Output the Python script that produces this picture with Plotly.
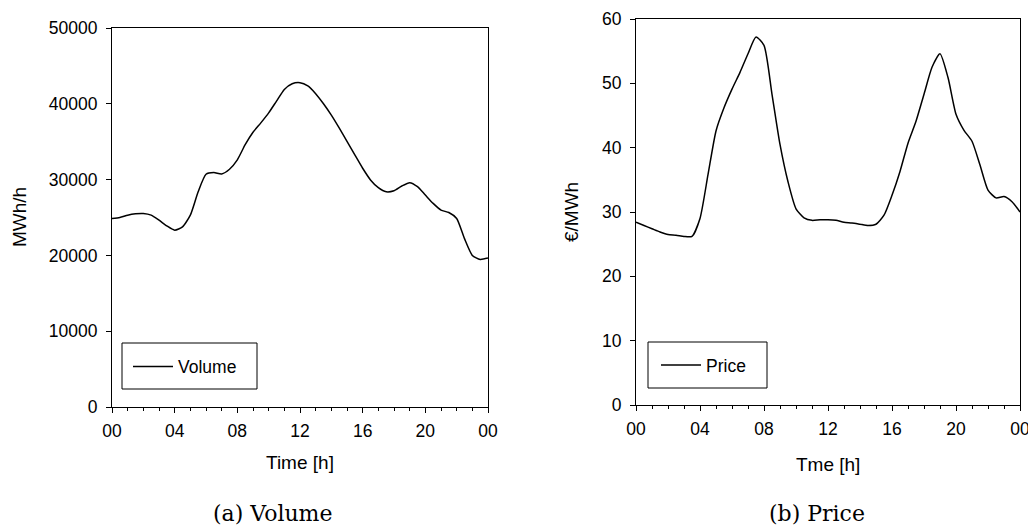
import plotly.graph_objects as go

# ---- data ----
hours = [i * 0.5 for i in range(49)]  # 0 .. 24 h, half-hour steps

volume = [24870, 25000, 25310, 25490, 25530, 25310, 24650, 23890, 23320, 23760,
          25310, 28400, 30710, 30930, 30750, 31370, 32610, 34600, 36240, 37480,
          38800, 40350, 41900, 42650, 42790, 42350, 41330, 40000, 38500, 36810,
          35040, 33270, 31500, 29960, 28940, 28400, 28540, 29160, 29600, 29070,
          27960, 26860, 25970, 25660, 24870, 22210, 20000, 19470, 19650]

price = [28.4, 27.9, 27.4, 26.9, 26.5, 26.4, 26.2, 26.2, 29.0, 35.8,
         42.6, 46.2, 49.1, 51.7, 54.6, 57.2, 55.9, 48.3, 40.5, 34.7,
         30.5, 29.1, 28.7, 28.8, 28.8, 28.7, 28.4, 28.3, 28.1, 27.9,
         28.1, 29.5, 32.6, 36.3, 40.7, 44.1, 48.3, 52.5, 54.6, 50.9,
         45.2, 42.7, 41.0, 37.3, 33.4, 32.2, 32.4, 31.6, 30.0]

tick_vals = [0, 4, 8, 12, 16, 20, 24]
tick_text = ["00", "04", "08", "12", "16", "20", "00"]

OFF = 8  # page body margin
W, H = 1036 - OFF, 530 - OFF
SANS = "Liberation Sans, Arial, sans-serif"
SERIF = "DejaVu Serif, serif"

def px(x):
    return (x - OFF) / W

def py(y):
    return (H - (y - OFF)) / H

fig = go.Figure()
fig.add_trace(go.Scatter(x=hours, y=volume, mode="lines", name="Volume",
                         line=dict(color="black", width=1.5, shape="spline", smoothing=0.6),
                         xaxis="x", yaxis="y", legend="legend"))
fig.add_trace(go.Scatter(x=hours, y=price, mode="lines", name="Price",
                         line=dict(color="black", width=1.5, shape="spline", smoothing=0.6),
                         xaxis="x2", yaxis="y2", legend="legend2"))

common_x = dict(range=[0, 24], tickmode="array", tickvals=tick_vals, ticktext=tick_text,
                ticks="outside", ticklen=5, tickcolor="black", showline=True, linecolor="black",
                linewidth=1, mirror=True, showgrid=False, zeroline=False, automargin=False,
                ticklabelstandoff=3,
                minor=dict(tick0=0, dtick=1, ticks="outside", ticklen=3, tickcolor="black", showgrid=False),
                tickfont=dict(family=SANS, size=17.5, color="black"), fixedrange=True)
common_y = dict(ticks="outside", ticklen=5, tickcolor="black", showline=True, linecolor="black",
                linewidth=1, mirror=True, showgrid=False, zeroline=False, automargin=False,
                ticklabelstandoff=5,
                tickfont=dict(family=SANS, size=17.5, color="black"), fixedrange=True)

fig.update_layout(
    width=W, height=H, margin=dict(l=0, r=0, t=0, b=0),
    paper_bgcolor="white", plot_bgcolor="white",
    xaxis=dict(domain=[px(112), px(488)], anchor="y", **common_x),
    yaxis=dict(domain=[py(407), py(28)], anchor="x", range=[0, 50000], dtick=10000,
               tickformat="d", **common_y),
    xaxis2=dict(domain=[px(636), px(1020)], anchor="y2", **common_x),
    yaxis2=dict(domain=[py(405), py(19)], anchor="x2", range=[0, 60], dtick=10, **common_y),
    legend=dict(x=px(128), y=py(366.5), xanchor="left", yanchor="middle",
                bgcolor="rgba(0,0,0,0)", borderwidth=0, itemwidth=40,
                font=dict(family=SANS, size=17.5, color="black")),
    legend2=dict(x=px(656), y=py(365), xanchor="left", yanchor="middle",
                 bgcolor="rgba(0,0,0,0)", borderwidth=0, itemwidth=40,
                 font=dict(family=SANS, size=17.5, color="black")),
    showlegend=True,
)

# legend frames
fig.add_shape(type="rect", xref="paper", yref="paper", x0=px(122), x1=px(257),
              y0=py(389), y1=py(343), line=dict(color="black", width=1))
fig.add_shape(type="rect", xref="paper", yref="paper", x0=px(648), x1=px(767),
              y0=py(388), y1=py(342), line=dict(color="black", width=1))

ann = [
    dict(text="Time [h]", x=px(300), y=py(462), font=dict(family=SANS, size=19, color="black")),
    dict(text="Tme [h]", x=px(828), y=py(464), font=dict(family=SANS, size=19, color="black")),
    dict(text="MWh/h", x=px(19), y=py(217), textangle=-90, font=dict(family=SANS, size=19, color="black")),
    dict(text="€/MWh", x=px(572), y=py(212), textangle=-90, font=dict(family=SANS, size=19, color="black")),
    dict(text="(a) Volume", x=px(272), y=py(513), font=dict(family=SERIF, size=22, color="black")),
    dict(text="(b) Price", x=px(817), y=py(513), font=dict(family=SERIF, size=22, color="black")),
]
for a in ann:
    fig.add_annotation(xref="paper", yref="paper", showarrow=False, xanchor="center",
                       yanchor="middle", **a)

fig.write_html("out.html")
